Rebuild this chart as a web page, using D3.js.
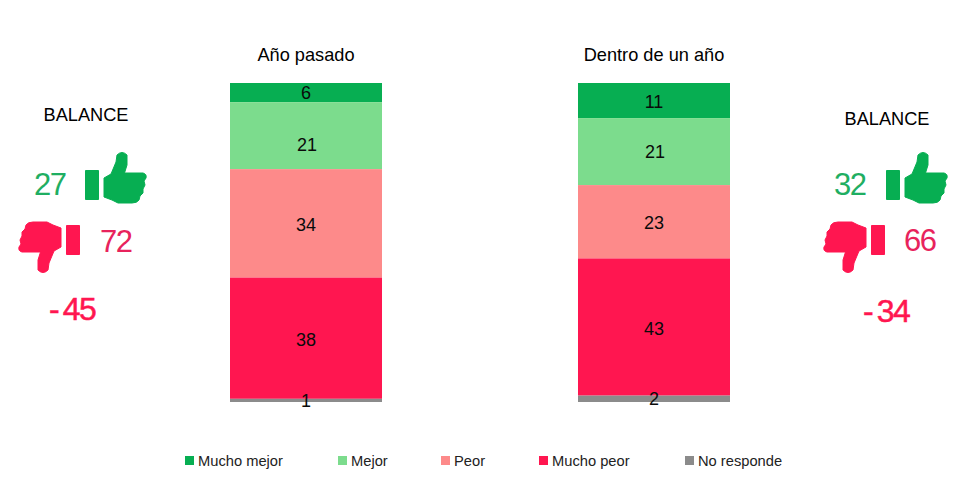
<!DOCTYPE html>
<html>
<head>
<meta charset="utf-8">
<script src="https://cdn.jsdelivr.net/npm/d3@7"></script>
<style>
  html, body { margin: 0; padding: 0; background: #fff; }
  svg { display: block; }
  text { font-family: "Liberation Sans", Arial, sans-serif; }
</style>
</head>
<body>
<div id="chart"></div>
<script>
const periods = ["Año pasado", "Dentro de un año"];
const categories = ["Mucho mejor", "Mejor", "Peor", "Mucho peor", "No responde"];
const colors = ["#07ae52", "#7cdc8d", "#fd8a8a", "#ff1650", "#8b8b8b"];

const muchoMejor = [6, 11];
const mejor = [21, 21];
const peor = [34, 23];
const muchoPeor = [38, 43];
const noResponde = [1, 2];

const balanceUp = [27, 32];
const balanceDown = [72, 66];
const balanceNet = [-45, -34];

const width = 970;
const height = 490;

const rows = periods.map((p, i) => ({
  period: p,
  "Mucho mejor": muchoMejor[i],
  "Mejor": mejor[i],
  "Peor": peor[i],
  "Mucho peor": muchoPeor[i],
  "No responde": noResponde[i],
}));

const svg = d3.select("#chart")
  .append("svg")
  .attr("width", width)
  .attr("height", height);

const x = d3.scaleBand()
  .domain(periods)
  .range([230, 730])
  .paddingInner(0.5632);

const y = d3.scaleLinear().domain([0, 100]).range([83, 402]);

const color = d3.scaleOrdinal().domain(categories).range(colors);

const series = d3.stack().keys(categories)(rows);

// bars
const groups = svg.selectAll("g.serie")
  .data(series)
  .enter()
  .append("g")
  .attr("class", "serie")
  .attr("fill", (d) => color(d.key));

groups.selectAll("rect")
  .data((d) => d)
  .enter()
  .append("rect")
  .attr("x", (d) => x(d.data.period))
  .attr("y", (d) => y(d[0]))
  .attr("width", x.bandwidth())
  .attr("height", (d) => y(d[1]) - y(d[0]));

// value labels, the picture has them a bit off centre
const nudge = [[0, 1], [9, 0], [1, 1], [1, 1], [0, 0]];

series.forEach((s, si) => {
  svg.selectAll(null)
    .data(s)
    .enter()
    .append("text")
    .attr("x", (d) => x(d.data.period) + x.bandwidth() / 2 + (si === 1 ? 1 : 0))
    .attr("y", (d, i) => (y(d[0]) + y(d[1])) / 2 + nudge[si][i])
    .attr("dy", "0.36em")
    .attr("text-anchor", "middle")
    .attr("font-size", 18)
    .attr("fill", "#0a0a0a")
    .text((d) => d[1] - d[0]);
});

// titles
svg.selectAll(null)
  .data(periods)
  .enter()
  .append("text")
  .attr("x", (d) => x(d) + x.bandwidth() / 2)
  .attr("y", 61)
  .attr("text-anchor", "middle")
  .attr("font-size", 18.2)
  .attr("fill", "#000")
  .text((d) => d);

// thumb icon, drawn pointing up with its origin at the top left
const thumb = d3.path();
thumb.moveTo(0.5, 18.5);
thumb.lineTo(13.5, 18.5);
thumb.lineTo(13.5, 47.5);
thumb.lineTo(0.5, 47.5);
thumb.closePath();
thumb.moveTo(19, 26);
thumb.lineTo(26, 22);
thumb.lineTo(31, 10);
thumb.lineTo(32, 3);
thumb.quadraticCurveTo(37, -2, 42, 3);
thumb.lineTo(42, 13);
thumb.lineTo(39.5, 21);
thumb.lineTo(58, 21);
thumb.quadraticCurveTo(62, 22, 61, 26);
thumb.lineTo(59, 29);
thumb.lineTo(60, 33);
thumb.lineTo(58, 37);
thumb.lineTo(58, 41);
thumb.lineTo(55, 44);
thumb.lineTo(54, 48);
thumb.quadraticCurveTo(52, 51, 47, 51);
thumb.lineTo(33, 51);
thumb.lineTo(27, 48);
thumb.lineTo(19, 45);
thumb.closePath();

const green = colors[0];
const red = colors[3];

// one block per side of the chart
const sides = [
  { title: [86, 121], upIcon: [85, 152], downIcon: [80, 273], upNum: [34, 195], downNum: [100, 252], net: [49, 320] },
  { title: [887, 125], upIcon: [886, 152], downIcon: [885, 273], upNum: [834, 195], downNum: [904, 251], net: [863, 322] },
];

sides.forEach((s, i) => {
  svg.append("text")
    .attr("x", s.title[0])
    .attr("y", s.title[1])
    .attr("text-anchor", "middle")
    .attr("font-size", 18.2)
    .attr("fill", "#000")
    .text("BALANCE");

  svg.append("path")
    .attr("d", thumb.toString())
    .attr("transform", `translate(${s.upIcon[0]},${s.upIcon[1]})`)
    .attr("fill", green)
    .attr("stroke", green)
    .attr("stroke-width", 1)
    .attr("stroke-linejoin", "round");

  svg.append("path")
    .attr("d", thumb.toString())
    .attr("transform", `translate(${s.downIcon[0]},${s.downIcon[1]}) rotate(180)`)
    .attr("fill", red)
    .attr("stroke", red)
    .attr("stroke-width", 1)
    .attr("stroke-linejoin", "round");

  svg.append("text")
    .attr("x", s.upNum[0])
    .attr("y", s.upNum[1])
    .attr("font-size", 31)
    .attr("letter-spacing", -1.5)
    .attr("fill", "#1fae62")
    .text(balanceUp[i]);

  svg.append("text")
    .attr("x", s.downNum[0])
    .attr("y", s.downNum[1])
    .attr("font-size", 31)
    .attr("letter-spacing", -1.5)
    .attr("fill", "#e8235c")
    .text(balanceDown[i]);

  // the net figure has a wide gap after its minus sign
  const net = svg.append("text")
    .attr("x", s.net[0])
    .attr("y", s.net[1])
    .attr("font-size", 32)
    .attr("stroke", red)
    .attr("stroke-width", 0.5)
    .attr("fill", red);

  net.append("tspan").text("-");
  net.append("tspan")
    .attr("dx", 3)
    .attr("letter-spacing", -1.5)
    .text(Math.abs(balanceNet[i]));
});

// legend
const legendX = [185, 338, 441, 539, 685];

const legend = svg.selectAll("g.legend")
  .data(categories)
  .enter()
  .append("g")
  .attr("class", "legend")
  .attr("transform", (d, i) => `translate(${legendX[i]},456)`);

legend.append("rect")
  .attr("width", 9)
  .attr("height", 9)
  .attr("fill", (d) => color(d));

legend.append("text")
  .attr("x", 13)
  .attr("y", 9.5)
  .attr("font-size", 14.7)
  .attr("fill", "#222")
  .text((d) => d);
</script>
</body>
</html>
